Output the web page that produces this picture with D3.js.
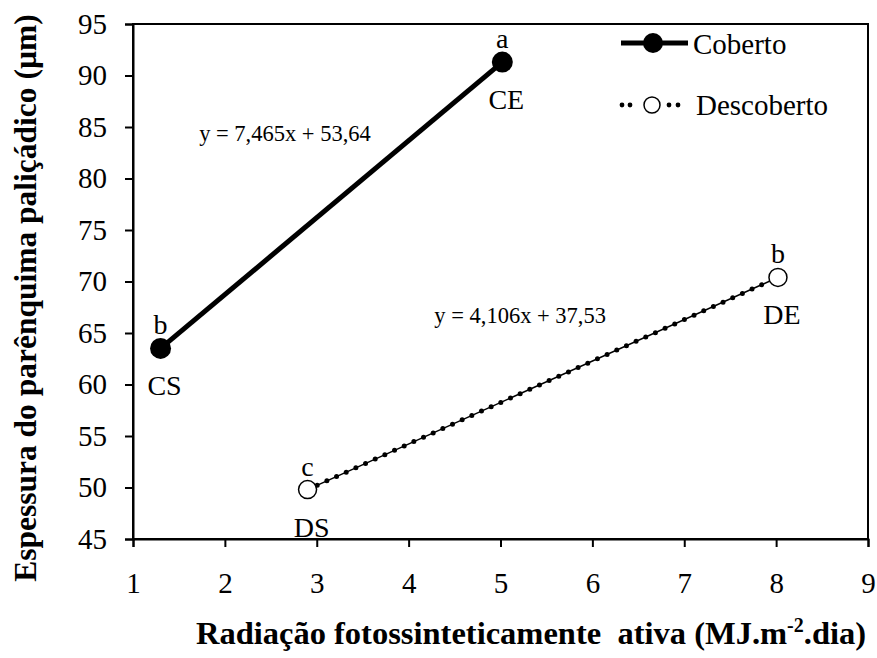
<!DOCTYPE html>
<html><head><meta charset="utf-8">
<script src="https://cdn.jsdelivr.net/npm/d3@7"></script>
<style>body{margin:0;background:#fff}svg{display:block}text{font-family:"Liberation Serif","Times New Roman",serif;fill:#000}</style>
</head><body>
<svg id="c" width="877" height="658"></svg>
<script>
const xTicks=[1,2,3,4,5,6,7,8,9];
const yTicks=[45,50,55,60,65,70,75,80,85,90,95];
const coberto=[{x:1.3,y:63.5,top:"b",bot:"CS"},{x:5.02,y:91.3,top:"a",bot:"CE"}];
const descoberto=[{x:2.9,y:49.8,top:"c",bot:"DS"},{x:8.02,y:70.4,top:"b",bot:"DE"}];
const equations=[{t:"y = 7,465x + 53,64",x:1.72,y:83.6},{t:"y = 4,106x + 37,53",x:4.28,y:66.0}];
const seriesNames=["Coberto","Descoberto"];

const svg=d3.select("#c");
const L=133,R=868,T=24,B=539;
const x=d3.scaleLinear().domain([1,9]).range([L,R]);
const y=d3.scaleLinear().domain([45,95]).range([B,T]);

// frame
svg.append("rect").attr("x",L).attr("y",T).attr("width",R-L).attr("height",B-T).attr("fill","none").attr("stroke","#000").attr("stroke-width",2);
const gx=svg.append("g").attr("transform",`translate(0,${B})`).call(d3.axisBottom(x).tickValues(xTicks).tickSize(8).tickPadding(25).tickFormat(d3.format("d")));
const gy=svg.append("g").attr("transform",`translate(${L},0)`).call(d3.axisLeft(y).tickValues(yTicks).tickSize(8).tickPadding(18).tickFormat(d3.format("d")));
[gx,gy].forEach(g=>{g.select(".domain").attr("stroke-width",2);g.selectAll(".tick line").attr("stroke-width",2);
 g.selectAll("text").attr("font-size",29).attr("fill","#000");});
gx.selectAll("text").attr("dy","0.71em");

// Coberto
svg.append("path").datum(coberto).attr("d",d3.line().x(d=>x(d.x)).y(d=>y(d.y))).attr("stroke","#000").attr("stroke-width",5).attr("fill","none");
svg.selectAll(".cp").data(coberto).join("circle").attr("cx",d=>x(d.x)).attr("cy",d=>y(d.y)).attr("r",10.5).attr("fill","#000");

// Descoberto
const dl=d3.line().x(d=>x(d.x)).y(d=>y(d.y));
svg.append("path").datum(descoberto).attr("d",dl).attr("stroke","#000").attr("stroke-width",1.5).attr("fill","none");
svg.append("path").datum(descoberto).attr("d",dl).attr("stroke","#000").attr("stroke-width",5).attr("stroke-linecap","round").attr("stroke-dasharray","0 10.6").attr("fill","none");
svg.selectAll(".dp").data(descoberto).join("circle").attr("cx",d=>x(d.x)).attr("cy",d=>y(d.y)).attr("r",9).attr("fill","#fff").attr("stroke","#000").attr("stroke-width",1.5);

// point labels
const all=coberto.concat(descoberto);
svg.selectAll(".tl").data(all).join("text").attr("x",d=>x(d.x)).attr("y",d=>y(d.y)-14).attr("text-anchor","middle").attr("font-size",28).text(d=>d.top);
svg.selectAll(".bl").data(all).join("text").attr("x",d=>x(d.x)+4).attr("y",d=>y(d.y)+47).attr("text-anchor","middle").attr("font-size",28).text(d=>d.bot);

// equations
svg.selectAll(".eq").data(equations).join("text").attr("x",d=>x(d.x)).attr("y",d=>y(d.y)).attr("font-size",22.5).text(d=>d.t);

// legend
const lg=svg.append("g");
lg.append("line").attr("x1",621).attr("x2",688).attr("y1",43).attr("y2",43).attr("stroke","#000").attr("stroke-width",5);
lg.append("circle").attr("cx",653).attr("cy",43).attr("r",10).attr("fill","#000");
lg.append("text").attr("x",693).attr("y",54).attr("font-size",29).text(seriesNames[0]);
lg.selectAll(".ld").data([622,630,669,678]).join("circle").attr("cx",d=>d).attr("cy",105).attr("r",2.4).attr("fill","#000");
lg.append("circle").attr("cx",652).attr("cy",105).attr("r",8).attr("fill","#fff").attr("stroke","#000").attr("stroke-width",1.5);
lg.append("text").attr("x",696).attr("y",115).attr("font-size",29).text(seriesNames[1]);

// axis titles
const xt=svg.append("text").attr("x",531).attr("y",644).attr("text-anchor","middle").attr("font-size",32.5).attr("font-weight","bold");
xt.append("tspan").text("Radiação fotossinteticamente\u00a0 ativa (MJ.m");
xt.append("tspan").attr("dy",-12).attr("font-size",20).text("-2");
xt.append("tspan").attr("dy",12).text(".dia)");
svg.append("text").attr("transform","translate(36,298) rotate(-90)").attr("text-anchor","middle").attr("font-size",31.5).attr("font-weight","bold").text("Espessura do parênquima paliçádico (µm)");
</script>
</body></html>
